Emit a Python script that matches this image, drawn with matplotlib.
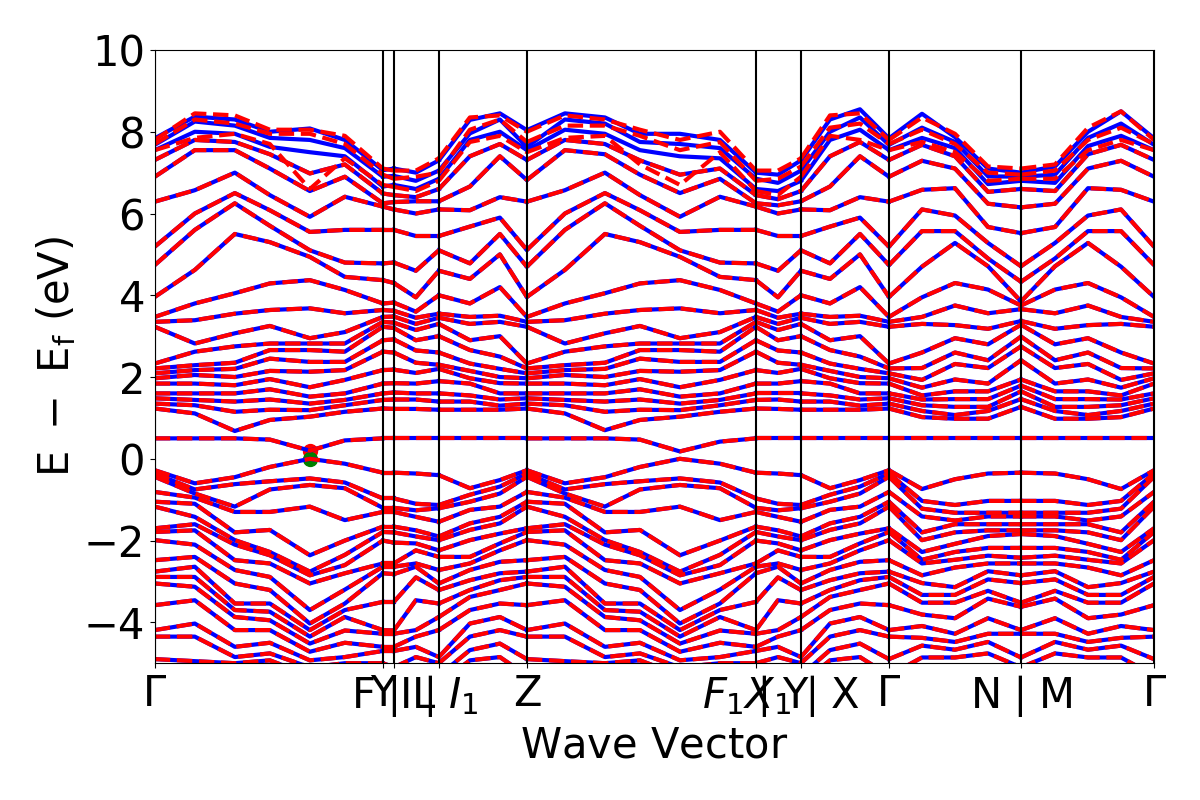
import numpy as np
import matplotlib
matplotlib.use("Agg")
import matplotlib.pyplot as plt

# k-path distances (arbitrary units) for each branch
k_gy = [0.0, 0.2, 0.4, 0.575, 0.775, 0.95, 1.14]
k_yf = [1.14, 1.195]
k_fi = [1.195, 1.305, 1.42]
k_iz = [1.42, 1.575, 1.725, 1.86]
k_zf = [1.86, 2.05, 2.25, 2.425, 2.625, 2.825, 3.005]
k_yx = [3.005, 3.115, 3.23]
k_xg = [3.23, 3.375, 3.525, 3.67]
k_gn = [3.67, 3.835, 4.0, 4.165, 4.33]
k_mg = [4.33, 4.5, 4.665, 4.83, 4.995]

tick_pos = [0.0, 1.14, 1.195, 1.42, 1.86, 3.005, 3.23, 3.67, 4.33, 4.995]
tick_labels = ["$\\Gamma$", "Y", "F$\\mid$L", "I$\\mid$$I_1$", "Z",
               "$F_1$$\\mid$Y", "$X_1$$\\mid$X", "$\\Gamma$", "N$\\mid$M", "$\\Gamma$"]
y_ticks = [-4, -2, 0, 2, 4, 6, 8, 10]

# conduction bands: one row per k-point, energies (eV) sorted low -> high
cb_G = [0.50, 1.23, 1.35, 1.48, 1.60, 1.84, 1.97, 2.09, 2.21, 2.33, 3.23, 3.35, 3.47, 3.96, 4.74, 5.19, 6.29, 6.90, 7.31, 7.55, 7.68, 7.84]
cb_Y = [0.50, 1.23, 1.44, 1.60, 1.84, 2.17, 2.62, 2.90, 3.23, 3.35, 3.47, 3.64, 3.80, 4.37, 4.78, 5.60, 6.17, 6.25, 6.49, 6.66, 6.90, 7.06]
cb_F = [0.50, 1.22, 1.45, 1.62, 1.85, 2.18, 2.60, 2.92, 3.20, 3.33, 3.48, 3.62, 3.82, 4.30, 4.80, 5.60, 6.10, 6.28, 6.45, 6.70, 6.92, 7.10]
cb_I = [0.50, 1.20, 1.40, 1.60, 1.90, 2.20, 2.30, 2.60, 3.00, 3.30, 3.45, 3.55, 4.00, 4.60, 5.10, 5.45, 6.10, 6.30, 6.60, 6.85, 7.05, 7.30]
cb_Z = [0.50, 1.23, 1.35, 1.48, 1.60, 1.84, 1.97, 2.09, 2.21, 2.33, 3.23, 3.35, 3.47, 3.96, 4.70, 5.11, 6.29, 6.82, 7.31, 7.55, 7.63, 8.04]
cb_F1 = [0.50, 1.23, 1.44, 1.60, 1.84, 2.17, 2.62, 2.90, 3.23, 3.35, 3.47, 3.64, 3.80, 4.37, 4.78, 5.60, 6.17, 6.25, 6.45, 6.60, 6.85, 7.00]
cb_X = [0.50, 1.20, 1.40, 1.60, 1.90, 2.20, 2.30, 2.60, 3.00, 3.30, 3.45, 3.55, 4.00, 4.60, 5.10, 5.45, 6.10, 6.30, 6.55, 6.80, 7.05, 7.30]
cb_N = [0.50, 1.27, 1.46, 1.65, 1.79, 1.94, 2.41, 2.75, 2.99, 3.28, 3.37, 3.66, 3.75, 3.85, 4.33, 4.71, 5.52, 6.15, 6.60, 6.80, 6.90, 7.00]

cb_gy = [cb_G,
         [0.50, 1.11, 1.31, 1.44, 1.60, 1.84, 2.05, 2.17, 2.29, 2.62, 2.82, 3.39, 3.80, 4.62, 5.60, 6.00, 6.57, 7.55, 7.80, 8.00, 8.25, 8.37],
         [0.50, 0.68, 1.15, 1.40, 1.60, 1.80, 2.00, 2.20, 2.35, 2.75, 3.07, 3.55, 4.05, 5.50, 6.25, 6.50, 7.00, 7.55, 7.75, 7.95, 8.15, 8.30],
         [0.47, 0.95, 1.20, 1.45, 1.70, 1.95, 2.15, 2.45, 2.66, 2.82, 3.25, 3.64, 4.29, 5.30, 5.70, 6.08, 6.45, 7.10, 7.45, 7.63, 7.85, 8.00],
         [0.20, 1.03, 1.19, 1.35, 1.52, 1.75, 2.13, 2.37, 2.66, 2.82, 2.95, 3.68, 4.37, 4.94, 5.10, 5.55, 5.92, 6.55, 6.98, 7.50, 7.80, 8.08],
         [0.45, 1.15, 1.31, 1.44, 1.60, 1.93, 2.17, 2.37, 2.62, 2.82, 3.10, 3.56, 4.13, 4.45, 4.80, 5.60, 6.41, 6.90, 7.20, 7.40, 7.60, 7.80],
         cb_Y]
cb_yf = [cb_Y, cb_F]
cb_fi = [cb_F,
         [0.50, 1.22, 1.45, 1.60, 1.84, 2.10, 2.35, 2.65, 2.90, 3.15, 3.30, 3.45, 3.60, 3.95, 4.60, 5.45, 6.00, 6.30, 6.40, 6.60, 6.80, 7.00],
         cb_I]
cb_iz = [cb_I,
         [0.50, 1.20, 1.40, 1.55, 1.84, 1.97, 2.15, 2.33, 2.66, 2.90, 3.30, 3.47, 3.80, 4.40, 4.78, 5.68, 6.08, 6.66, 7.40, 7.80, 7.96, 8.29],
         [0.50, 1.20, 1.30, 1.45, 1.60, 1.85, 2.00, 2.20, 2.50, 3.00, 3.35, 3.50, 4.20, 5.00, 5.50, 5.90, 6.40, 7.40, 7.70, 8.00, 8.30, 8.45],
         cb_Z]
cb_zf = [cb_Z,
         [0.50, 1.11, 1.31, 1.44, 1.60, 1.84, 2.05, 2.17, 2.29, 2.62, 2.82, 3.39, 3.80, 4.62, 5.60, 6.00, 6.57, 7.55, 7.80, 8.05, 8.30, 8.45],
         [0.50, 0.70, 1.15, 1.40, 1.60, 1.80, 2.00, 2.20, 2.35, 2.75, 3.07, 3.55, 4.05, 5.50, 6.25, 6.50, 7.00, 7.45, 7.70, 7.95, 8.20, 8.35],
         [0.47, 0.95, 1.20, 1.45, 1.70, 1.95, 2.15, 2.45, 2.66, 2.82, 3.25, 3.64, 4.29, 5.30, 5.70, 6.08, 6.45, 6.95, 7.30, 7.55, 7.75, 7.95],
         [0.18, 1.03, 1.19, 1.35, 1.52, 1.75, 2.13, 2.37, 2.66, 2.82, 2.95, 3.68, 4.37, 4.94, 5.10, 5.55, 5.92, 6.50, 6.95, 7.40, 7.70, 7.95],
         [0.42, 1.15, 1.31, 1.44, 1.60, 1.93, 2.17, 2.37, 2.62, 2.82, 3.10, 3.56, 4.13, 4.45, 4.80, 5.60, 6.41, 6.85, 7.10, 7.35, 7.60, 7.80],
         cb_F1]
cb_yx = [cb_F1,
         [0.50, 1.22, 1.45, 1.60, 1.84, 2.10, 2.35, 2.65, 2.90, 3.15, 3.30, 3.45, 3.60, 3.95, 4.60, 5.45, 6.00, 6.20, 6.35, 6.55, 6.75, 6.95],
         cb_X]
cb_xg = [cb_X,
         [0.50, 1.20, 1.40, 1.55, 1.84, 1.97, 2.15, 2.33, 2.66, 2.90, 3.30, 3.47, 3.80, 4.40, 4.78, 5.68, 6.08, 6.66, 7.40, 7.80, 8.00, 8.30],
         [0.50, 1.20, 1.30, 1.45, 1.60, 1.85, 2.00, 2.20, 2.50, 3.00, 3.35, 3.50, 4.20, 5.00, 5.50, 5.90, 6.40, 7.40, 7.75, 8.05, 8.35, 8.55],
         cb_G]
cb_gn = [cb_G,
         [0.50, 1.02, 1.17, 1.31, 1.45, 1.55, 1.74, 1.93, 2.22, 2.60, 3.30, 3.47, 3.95, 4.70, 5.57, 6.10, 6.58, 7.29, 7.68, 7.85, 8.10, 8.44],
         [0.50, 0.98, 1.07, 1.27, 1.46, 1.65, 1.94, 2.32, 2.60, 2.95, 3.27, 3.75, 4.30, 5.28, 5.57, 5.95, 6.62, 7.10, 7.40, 7.60, 7.75, 7.87],
         [0.50, 0.98, 1.17, 1.27, 1.46, 1.65, 1.84, 2.22, 2.41, 2.80, 3.18, 3.56, 4.14, 4.71, 4.90, 5.28, 5.67, 6.24, 6.53, 6.72, 6.91, 7.10],
         cb_N]
cb_mg = [cb_N,
         [0.50, 0.98, 1.17, 1.27, 1.46, 1.65, 1.84, 2.22, 2.41, 2.80, 3.18, 3.56, 4.14, 4.71, 4.90, 5.28, 5.67, 6.24, 6.55, 6.75, 6.95, 7.15],
         [0.50, 0.98, 1.07, 1.27, 1.46, 1.65, 1.94, 2.32, 2.60, 2.95, 3.27, 3.75, 4.30, 5.28, 5.57, 5.95, 6.62, 7.10, 7.45, 7.65, 7.85, 8.00],
         [0.50, 1.02, 1.17, 1.31, 1.45, 1.55, 1.74, 1.93, 2.22, 2.60, 3.30, 3.47, 3.95, 4.70, 5.57, 6.10, 6.58, 7.29, 7.68, 7.90, 8.20, 8.50],
         cb_G]

# comparison calculation (red dashed): top three conduction bands differ
top_gy = [[7.55, 7.70, 7.80], [7.85, 8.30, 8.45], [7.95, 8.20, 8.40], [7.70, 7.95, 8.05],
          [6.60, 7.95, 8.05], [7.35, 7.70, 7.90], [6.70, 6.95, 7.10]]
top_yf = [[6.70, 6.95, 7.10], [6.65, 6.85, 7.05]]
top_fi = [[6.65, 6.85, 7.05], [6.55, 6.90, 7.05], [6.80, 7.00, 7.35]]
top_iz = [[6.80, 7.00, 7.35], [7.75, 8.05, 8.35], [7.90, 8.30, 8.40], [7.50, 7.75, 8.00]]
top_zf = [[7.50, 7.75, 8.00], [7.85, 8.15, 8.40], [7.90, 8.15, 8.30], [7.20, 7.90, 8.05],
          [6.70, 7.55, 7.80], [7.50, 7.75, 8.00], [6.55, 6.80, 7.05]]
top_yx = [[6.55, 6.80, 7.05], [6.45, 6.85, 7.05], [6.90, 7.15, 7.35]]
top_xg = [[6.90, 7.15, 7.35], [7.90, 8.10, 8.40], [7.80, 8.20, 8.45], [7.55, 7.70, 7.80]]
top_gn = [[7.55, 7.70, 7.80], [7.75, 8.05, 8.35], [7.50, 7.70, 7.95], [6.80, 7.00, 7.15], [6.85, 6.95, 7.10]]
top_mg = [[6.85, 6.95, 7.10], [6.85, 7.05, 7.20], [7.55, 7.80, 8.10], [7.80, 8.10, 8.50], [7.55, 7.70, 7.80]]

# valence bands: one row per k-point, energies (eV) sorted high -> low
vb_G = [-0.28, -0.36, -0.44, -0.81, -1.05, -1.17, -1.70, -1.79, -1.99, -2.48, -2.76, -2.89, -3.05, -3.58, -4.19, -4.35, -4.90, -5.30]
vb_Y = [-0.34, -0.97, -1.20, -1.30, -1.66, -1.79, -2.00, -2.56, -2.64, -2.80, -3.50, -4.19, -4.28, -4.60, -4.70, -5.00, -5.30, -5.50]
vb_F = [-0.34, -0.97, -1.20, -1.30, -1.66, -1.80, -2.05, -2.56, -2.64, -2.82, -3.50, -4.20, -4.28, -4.60, -4.70, -5.10, -5.30, -5.50]
vb_I = [-0.40, -1.13, -1.21, -1.54, -1.90, -1.99, -2.24, -2.40, -2.72, -3.05, -3.21, -3.54, -3.87, -4.19, -4.85, -5.00, -5.30, -5.50]
vb_N = [-0.34, -1.03, -1.32, -1.41, -1.60, -1.75, -1.84, -2.18, -2.42, -2.56, -2.85, -3.04, -3.52, -3.62, -4.19, -4.28, -4.86, -5.10]

vb_gy = [vb_G,
         [-0.60, -0.75, -0.85, -0.95, -1.10, -1.42, -1.60, -1.75, -2.10, -2.40, -2.64, -2.89, -3.13, -3.46, -4.03, -4.35, -4.95, -5.30],
         [-0.45, -0.62, -1.17, -1.30, -1.80, -1.99, -2.10, -2.48, -2.72, -3.05, -3.54, -3.70, -3.87, -4.19, -4.60, -4.85, -5.00, -5.30],
         [-0.20, -0.55, -0.75, -1.30, -1.74, -2.28, -2.36, -2.56, -2.89, -3.21, -3.54, -3.74, -3.95, -4.19, -4.50, -4.76, -4.93, -5.30],
         [0.00, -0.48, -0.64, -1.17, -2.36, -2.76, -2.85, -3.05, -3.70, -4.03, -4.19, -4.35, -4.52, -4.72, -4.93, -5.10, -5.30, -5.50],
         [-0.12, -0.58, -0.72, -1.50, -2.00, -2.35, -2.60, -2.80, -3.20, -3.54, -3.70, -3.87, -4.20, -4.50, -4.85, -5.00, -5.20, -5.40],
         vb_Y]
vb_yf = [vb_Y, vb_F]
vb_fi = [vb_F,
         [-0.36, -1.10, -1.26, -1.42, -1.75, -1.90, -2.07, -2.24, -2.56, -2.64, -2.90, -3.46, -4.19, -4.35, -4.60, -4.85, -5.20, -5.50],
         vb_I]
vb_iz = [vb_I,
         [-0.72, -0.88, -1.05, -1.25, -1.58, -1.74, -1.99, -2.40, -2.56, -2.72, -2.97, -3.21, -3.38, -3.70, -4.03, -4.35, -4.68, -4.93],
         [-0.52, -0.68, -0.85, -1.17, -1.42, -1.58, -1.83, -2.07, -2.24, -2.52, -2.80, -2.97, -3.21, -3.54, -3.87, -4.19, -4.52, -4.85],
         vb_G]
vb_zf = [vb_G,
         [-0.60, -0.75, -0.85, -0.95, -1.10, -1.42, -1.60, -1.75, -2.10, -2.40, -2.64, -2.89, -3.13, -3.46, -4.03, -4.35, -4.95, -5.30],
         [-0.45, -0.62, -1.17, -1.30, -1.80, -1.99, -2.10, -2.48, -2.72, -3.05, -3.54, -3.70, -3.87, -4.19, -4.60, -4.85, -5.00, -5.30],
         [-0.20, -0.55, -0.75, -1.30, -1.74, -2.28, -2.36, -2.56, -2.89, -3.21, -3.54, -3.74, -3.95, -4.19, -4.50, -4.76, -4.93, -5.30],
         [0.00, -0.48, -0.64, -1.17, -2.36, -2.76, -2.85, -3.05, -3.70, -4.03, -4.19, -4.35, -4.52, -4.72, -4.93, -5.10, -5.30, -5.50],
         [-0.12, -0.58, -0.72, -1.50, -2.00, -2.35, -2.60, -2.80, -3.20, -3.54, -3.70, -3.87, -4.20, -4.50, -4.85, -5.00, -5.20, -5.40],
         vb_Y]
vb_yx = [vb_Y,
         [-0.36, -1.10, -1.26, -1.42, -1.75, -1.90, -2.07, -2.24, -2.56, -2.64, -2.90, -3.46, -4.19, -4.35, -4.60, -4.85, -5.20, -5.50],
         vb_I]
vb_xg = [vb_I,
         [-0.72, -0.88, -1.05, -1.25, -1.58, -1.74, -1.99, -2.40, -2.56, -2.72, -2.97, -3.21, -3.38, -3.70, -4.03, -4.35, -4.68, -4.93],
         [-0.52, -0.68, -0.85, -1.17, -1.42, -1.58, -1.83, -2.07, -2.24, -2.52, -2.80, -2.97, -3.21, -3.54, -3.87, -4.19, -4.52, -4.85],
         vb_G]
vb_gn = [vb_G,
         [-0.74, -1.03, -1.22, -1.41, -1.80, -1.99, -2.28, -2.47, -2.56, -2.85, -3.04, -3.33, -3.52, -3.81, -4.09, -4.38, -4.57, -4.86],
         [-0.50, -1.13, -1.32, -1.51, -1.60, -1.80, -2.08, -2.28, -2.47, -2.66, -3.14, -3.33, -3.52, -3.90, -4.28, -4.48, -4.67, -4.86],
         [-0.36, -1.03, -1.32, -1.41, -1.60, -1.75, -1.89, -2.18, -2.37, -2.56, -2.75, -2.95, -3.23, -3.42, -3.90, -4.28, -4.48, -4.76],
         vb_N]
vb_mg = [vb_N,
         [-0.36, -1.03, -1.32, -1.41, -1.60, -1.75, -1.89, -2.18, -2.37, -2.56, -2.75, -2.95, -3.23, -3.42, -3.90, -4.28, -4.48, -4.76],
         [-0.50, -1.13, -1.32, -1.51, -1.60, -1.80, -2.08, -2.28, -2.47, -2.66, -3.14, -3.33, -3.52, -3.90, -4.28, -4.48, -4.67, -4.86],
         [-0.74, -1.03, -1.22, -1.41, -1.80, -1.99, -2.28, -2.47, -2.56, -2.85, -3.04, -3.33, -3.52, -3.81, -4.09, -4.38, -4.57, -4.86],
         vb_G]

cbm_k, cbm_e = 0.775, 0.20
vbm_k, vbm_e = 0.775, 0.00

branches = [
    (k_gy, cb_gy, top_gy, vb_gy), (k_yf, cb_yf, top_yf, vb_yf), (k_fi, cb_fi, top_fi, vb_fi),
    (k_iz, cb_iz, top_iz, vb_iz), (k_zf, cb_zf, top_zf, vb_zf), (k_yx, cb_yx, top_yx, vb_yx),
    (k_xg, cb_xg, top_xg, vb_xg), (k_gn, cb_gn, top_gn, vb_gn), (k_mg, cb_mg, top_mg, vb_mg),
]

fig = plt.figure(figsize=(12, 8), dpi=100)
ax = fig.add_axes([0.129, 0.171, 0.8327, 0.7665])

# first band structure: blue solid
for k, cb, top, vb in branches:
    bands = np.hstack([np.array(vb), np.array(cb)])
    for j in range(bands.shape[1]):
        ax.plot(k, bands[:, j], "b-", linewidth=3)

# second band structure: red dashed
for k, cb, top, vb in branches:
    cb2 = np.array(cb, dtype=float)
    cb2[:, -3:] = np.array(top)
    bands = np.hstack([np.array(vb), cb2])
    for j in range(bands.shape[1]):
        ax.plot(k, bands[:, j], "r--", linewidth=3)

ax.scatter(cbm_k, cbm_e, color="r", marker="o", s=100)
ax.scatter(vbm_k, vbm_e, color="g", marker="o", s=100)

ax.set_xticks(tick_pos)
ax.set_xticklabels(tick_labels)
for t in tick_pos:
    ax.axvline(t, color="k", linewidth=1.5)

ax.set_xlim(0, tick_pos[-1])
ax.set_ylim(-5, 10)
ax.set_yticks(y_ticks)
ax.tick_params(labelsize=30)
ax.set_xlabel(r"$\mathrm{Wave\ Vector}$", fontsize=30)
ax.set_ylabel(r"$\mathrm{E\ -\ E_f\ (eV)}$", fontsize=30)

plt.savefig("out.png", dpi=100)
